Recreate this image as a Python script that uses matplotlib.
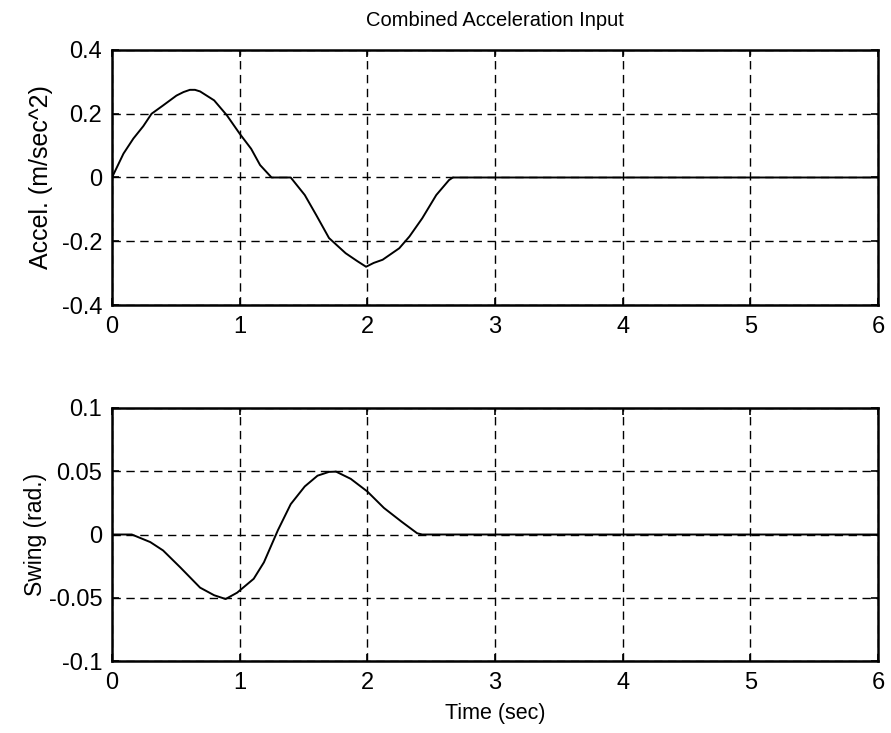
import matplotlib
matplotlib.use("Agg")
import matplotlib.pyplot as plt
from matplotlib.ticker import FixedLocator, FixedFormatter

plt.rcParams['font.family'] = ['Liberation Sans', 'DejaVu Sans']

# Top panel: acceleration input
accel_t = [0, 0.09, 0.167, 0.245, 0.31, 0.40, 0.505, 0.56, 0.61, 0.65, 0.69, 0.80, 0.90, 1.0, 1.09, 1.16, 1.25,
           1.40, 1.51, 1.60, 1.70, 1.83, 1.92, 1.99, 2.05, 2.12, 2.25, 2.33, 2.43, 2.54, 2.64, 2.67, 6.0]
accel_v = [0, 0.075, 0.122, 0.161, 0.200, 0.226, 0.257, 0.268, 0.275, 0.275, 0.270, 0.242, 0.195, 0.1375, 0.090, 0.039, 0.0,
           0.0, -0.055, -0.118, -0.190, -0.2375, -0.262, -0.280, -0.268, -0.258, -0.222, -0.185, -0.128, -0.055, -0.008, 0.0, 0.0]

# Bottom panel: swing angle
swing_t = [0, 0.155, 0.30, 0.40, 0.535, 0.69, 0.80, 0.89, 0.98, 1.11, 1.19, 1.30, 1.40, 1.51, 1.61,
           1.70, 1.755, 1.87, 2.0, 2.13, 2.27, 2.39, 2.43, 6.0]
swing_v = [0, 0, -0.006, -0.0126, -0.026, -0.042, -0.048, -0.051, -0.046, -0.035, -0.022, 0.0035, 0.024, 0.038, 0.0465,
           0.0495, 0.0497, 0.044, 0.034, 0.021, 0.010, 0.001, 0.0, 0.0]

x_ticks = [0, 1, 2, 3, 4, 5, 6]
x_labels = ['0', '1', '2', '3', '4', '5', '6']
top_yticks = [-0.4, -0.2, 0, 0.2, 0.4]
top_ylabels = ['-0.4', '-0.2', '0', '0.2', '0.4']
bot_yticks = [-0.1, -0.05, 0, 0.05, 0.1]
bot_ylabels = ['-0.1', '-0.05', '0', '0.05', '0.1']

fig = plt.figure(figsize=(8.91, 7.33), dpi=100)
ax1 = fig.add_axes([0.1257, 0.5839, 0.8597, 0.3479])
ax2 = fig.add_axes([0.1257, 0.0982, 0.8597, 0.3452])

def style(ax, yt, yl, ylim):
    ax.set_xlim(0, 6)
    ax.set_ylim(*ylim)
    ax.xaxis.set_major_locator(FixedLocator(x_ticks))
    ax.xaxis.set_major_formatter(FixedFormatter(x_labels))
    ax.yaxis.set_major_locator(FixedLocator(yt))
    ax.yaxis.set_major_formatter(FixedFormatter(yl))
    ax.grid(True, color='black', linestyle=(0, (6, 4)), linewidth=1.0)
    ax.tick_params(direction='in', length=5, width=1.2, labelsize=17,
                   top=True, right=True)
    ax.tick_params(axis='x', pad=8)
    ax.tick_params(axis='y', pad=7)
    for s in ax.spines.values():
        s.set_linewidth(1.8)

ax1.plot(accel_t, accel_v, color='black', linewidth=1.4)
style(ax1, top_yticks, top_ylabels, (-0.4, 0.4))
ax1.set_ylabel('Accel. (m/sec^2)', fontsize=18, labelpad=6)
ax1.set_title('Combined Acceleration Input', fontsize=14.5, pad=17)

ax2.plot(swing_t, swing_v, color='black', linewidth=1.4)
style(ax2, bot_yticks, bot_ylabels, (-0.1, 0.1))
ax2.set_ylabel('Swing (rad.)', fontsize=16.5, labelpad=1)
ax2.set_xlabel('Time (sec)', fontsize=15.5, labelpad=6.5)

fig.savefig('out.png', dpi=100)
